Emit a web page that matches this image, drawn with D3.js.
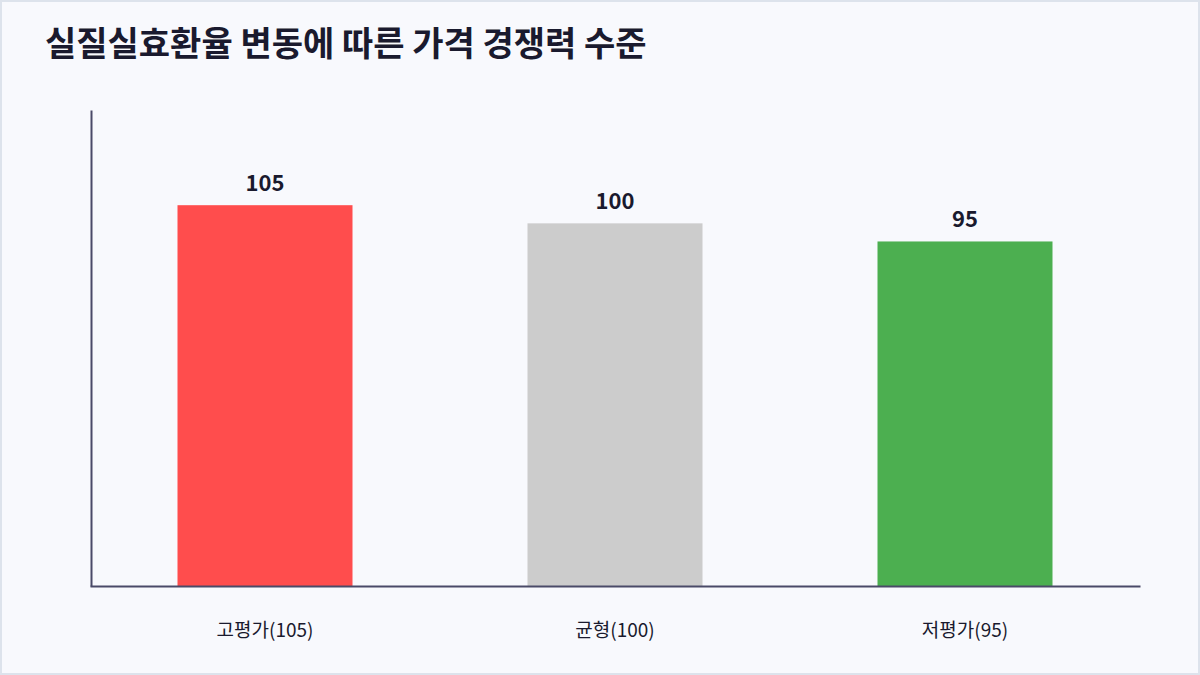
<!DOCTYPE html>
<html>
<head>
<meta charset="utf-8">
<script src="https://cdn.jsdelivr.net/npm/d3@7"></script>
<style>
  html, body { margin: 0; padding: 0; background: #fff; }
  svg { display: block; font-family: "Noto Sans CJK KR", "Noto Sans", sans-serif; }
</style>
</head>
<body>
<svg id="chart" width="1200" height="675"></svg>
<script>
var categories = ['고평가(105)', '균형(100)', '저평가(95)'];
var values = [105, 100, 95];
var colors = ['#ff4d4d', '#cccccc', '#4caf50'];

var svg = d3.select('#chart');
var W = 1200, H = 675;
var margin = { top: 110, right: 60, bottom: 89, left: 90 };

// card background
svg.append('rect')
  .attr('x', 1).attr('y', 1)
  .attr('width', W - 2).attr('height', H - 2)
  .attr('fill', '#f8f9fd')
  .attr('stroke', '#dde3ec')
  .attr('stroke-width', 2);

svg.append('text')
  .attr('x', 45).attr('y', 56)
  .attr('font-size', 34)
  .attr('font-weight', 700)
  .attr('fill', '#1a1a2e')
  .text('실질실효환율 변동에 따른 가격 경쟁력 수준');

var x = d3.scaleBand()
  .domain(categories)
  .range([margin.left, W - margin.right])
  .paddingInner(0.5)
  .paddingOuter(0.25);

var y = d3.scaleLinear()
  .domain([0, d3.max(values) * 1.25])
  .range([H - margin.bottom, margin.top]);

var g = svg.append('g');

g.selectAll('rect.bar')
  .data(values)
  .enter().append('rect')
  .attr('class', 'bar')
  .attr('x', function(d, i) { return x(categories[i]); })
  .attr('y', function(d) { return y(d); })
  .attr('width', x.bandwidth())
  .attr('height', function(d) { return y(0) - y(d); })
  .attr('fill', function(d, i) { return colors[i]; });

g.selectAll('text.val')
  .data(values)
  .enter().append('text')
  .attr('class', 'val')
  .attr('x', function(d, i) { return x(categories[i]) + x.bandwidth() / 2; })
  .attr('y', function(d) { return y(d) - 14; })
  .attr('text-anchor', 'middle')
  .attr('font-size', 22)
  .attr('font-weight', 700)
  .attr('fill', '#1a1a2e')
  .text(function(d) { return d; });

// axes
var xAxis = svg.append('g')
  .attr('transform', 'translate(0,' + y(0) + ')')
  .call(d3.axisBottom(x).tickSize(0).tickPadding(38));
xAxis.select('.domain').attr('stroke', '#4a4a68').attr('stroke-width', 2);
xAxis.selectAll('text')
  .attr('font-size', 19)
  .attr('fill', '#1a1a2e')
  .style('font-family', '"Noto Sans CJK KR", sans-serif');

var yAxis = svg.append('g')
  .attr('transform', 'translate(' + (margin.left + 1) + ',0)')
  .call(d3.axisLeft(y).tickSize(0).tickValues([]));
yAxis.select('.domain').attr('stroke', '#4a4a68').attr('stroke-width', 2);
</script>
</body>
</html>
